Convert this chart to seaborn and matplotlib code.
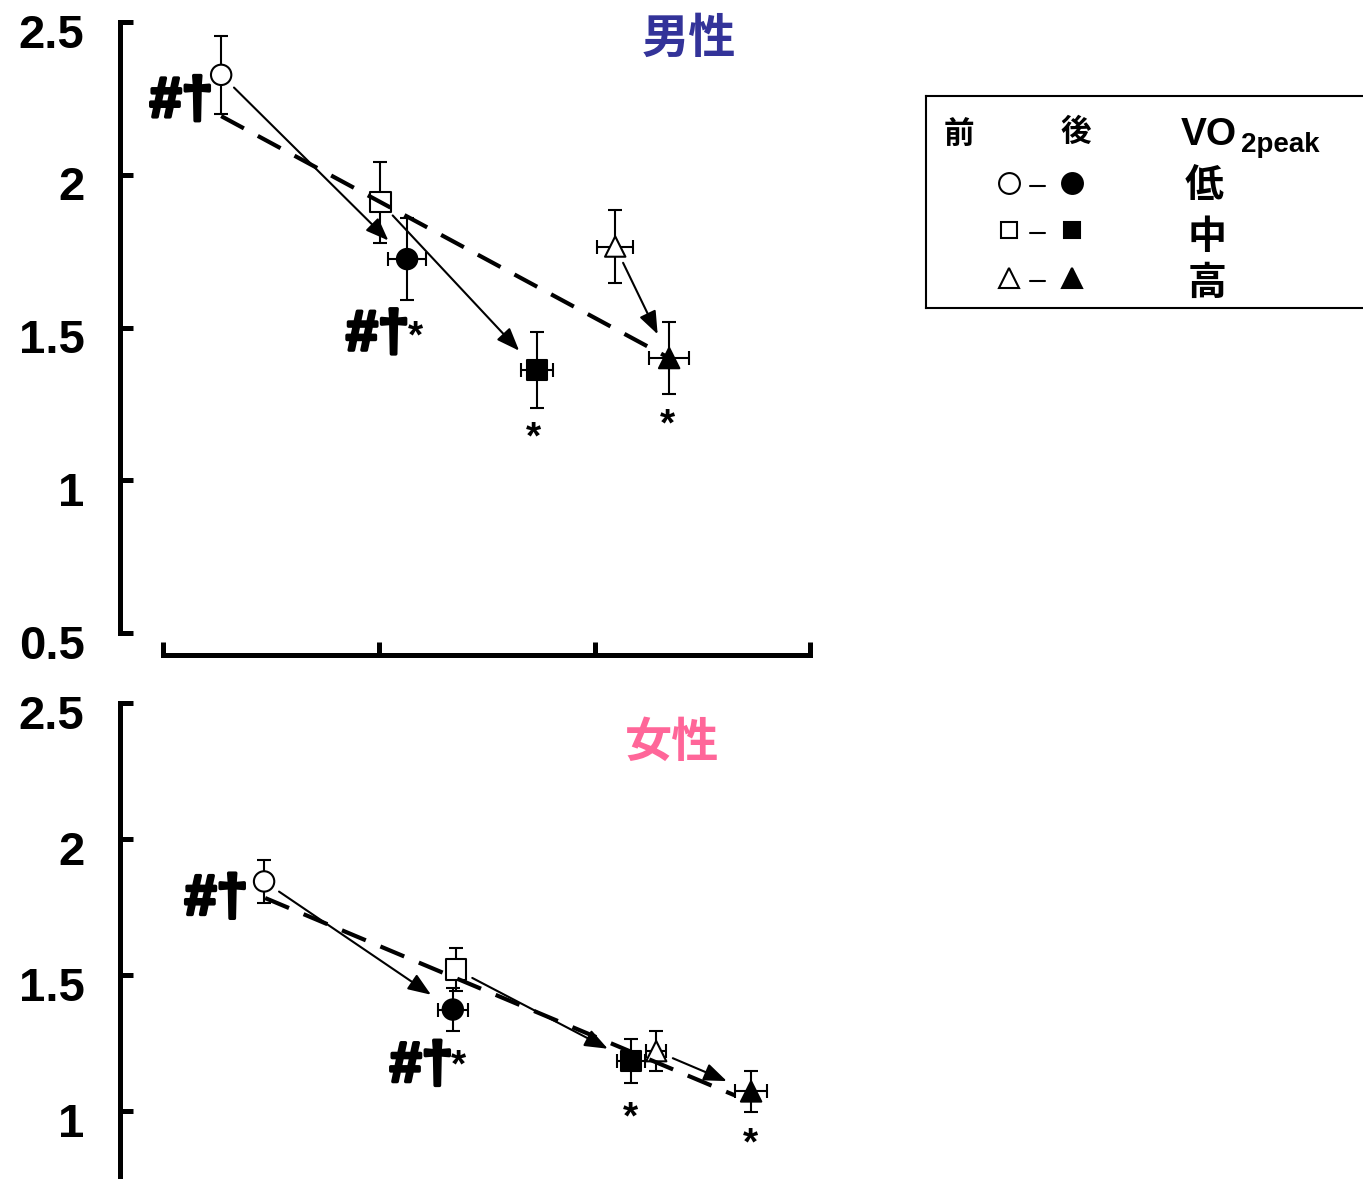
import matplotlib
matplotlib.use("Agg")
import matplotlib.pyplot as plt
import matplotlib.transforms as mtransforms
import matplotlib.patheffects as pe
import numpy as np
import pandas as pd
import seaborn as sns

# VO2peak 群 (低・中・高)
groups = ["低", "中", "高"]
group_markers = {"低": "o", "中": "s", "高": "^"}

# 男性: 前 (pre) / 後 (post)
m_pre_x = [0.269, 1.007, 2.096]
m_pre_y = [2.327, 1.910, 1.765]
m_pre_xerr = [0.03, 0.03, 0.083]
m_pre_yerr = [0.128, 0.133, 0.120]
m_post_x = [1.131, 1.734, 2.346]
m_post_y = [1.724, 1.361, 1.400]
m_post_xerr = [0.088, 0.074, 0.093]
m_post_yerr = [0.135, 0.125, 0.119]
m_dash_x = [0.269, 2.346]
m_dash_y = [2.192, 1.400]

# 女性
f_pre_x = [0.468, 1.359, 2.286]
f_pre_y = [1.844, 1.520, 1.220]
f_pre_xerr = [0.03, 0.03, 0.046]
f_pre_yerr = [0.078, 0.080, 0.074]
f_post_x = [1.343, 2.170, 2.726]
f_post_y = [1.373, 1.184, 1.072]
f_post_xerr = [0.070, 0.065, 0.074]
f_post_yerr = [0.080, 0.080, 0.074]
f_dash_x = [0.473, 2.649]
f_dash_y = [1.783, 1.058]

y_ticks_m = [0.5, 1, 1.5, 2, 2.5]
y_labels_m = ["0.5", "1", "1.5", "2", "2.5"]
y_ticks_f = [1, 1.5, 2, 2.5]
y_labels_f = ["1", "1.5", "2", "2.5"]
x_ticks = [0, 1, 2, 3]

# 有意差の記号: (文字, 前/後, 群, 横ずれ px, 縦ずれ px, 揃え, 大きさ)
m_marks = [
    ("#†", "pre", 0, -8, -42, "right", 41),
    ("#†", "post", 0, -61, -91, "left", 41),
    ("*", "post", 0, 8, -88, "center", 28),
    ("*", "post", 1, -4, -79, "center", 28),
    ("*", "post", 2, -2, -77, "center", 28),
]
f_marks = [
    ("#†", "pre", 0, -16, -33, "right", 41),
    ("#†", "post", 0, -63, -72, "left", 41),
    ("*", "post", 0, 6, -67, "center", 28),
    ("*", "post", 1, -1, -68, "center", 28),
    ("*", "post", 2, -1, -63, "center", 28),
]

sns.set_style("white")
plt.rcParams["font.family"] = ["Liberation Sans", "Noto Sans CJK JP", "DejaVu Sans"]
plt.rcParams["font.weight"] = "bold"
plt.rcParams["text.color"] = "black"

CJK = ["Noto Sans CJK JP", "DejaVu Sans"]

fig = plt.figure(figsize=(13.63, 11.79), dpi=100)
ax_m = fig.add_axes([0.08804, 0.46310, 0.5143, 0.51824])
ax_f = fig.add_axes([0.08804, -0.05768, 0.5143, 0.46141])


def draw_panel(ax, pre, post, dash, marks, title, title_color, title_xy, yt, yl):
    pre_x, pre_y, pre_xerr, pre_yerr = pre
    post_x, post_y, post_xerr, post_yerr = post

    # 誤差棒
    for xs, ys, xe, ye in [pre, post]:
        ax.errorbar(xs, ys, xerr=xe, yerr=ye, fmt="none", ecolor="black",
                    elinewidth=1.5, capsize=4.7, capthick=1.5, zorder=2)

    pre_df = pd.DataFrame({"x": pre_x, "y": pre_y, "群": groups})
    post_df = pd.DataFrame({"x": post_x, "y": post_y, "群": groups})
    sns.scatterplot(data=pre_df, x="x", y="y", style="群", markers=group_markers,
                    s=215, facecolor="white", edgecolor="black", linewidth=1.5,
                    legend=False, ax=ax, zorder=3)
    sns.scatterplot(data=post_df, x="x", y="y", style="群", markers=group_markers,
                    s=215, facecolor="black", edgecolor="black", linewidth=1.5,
                    legend=False, ax=ax, zorder=3)

    # 前 -> 後 の矢印
    for i in range(len(groups)):
        ax.annotate("", xy=(post_x[i], post_y[i]), xytext=(pre_x[i], pre_y[i]),
                    arrowprops=dict(arrowstyle="-|>,head_length=0.7,head_width=0.27",
                                    mutation_scale=20, lw=1.5, color="black",
                                    shrinkA=13, shrinkB=19), zorder=5)

    # 破線
    ax.plot(dash[0], dash[1], color="black", lw=3, linestyle=(0, (6.2, 3.8)),
            solid_capstyle="butt", zorder=4)

    for text, phase, i, dx, dy, ha, size in marks:
        px, py = (pre_x[i], pre_y[i]) if phase == "pre" else (post_x[i], post_y[i])
        t = ax.annotate(text, xy=(px, py), xytext=(dx, dy), textcoords="offset pixels",
                        ha=ha, va="baseline", fontsize=size, fontweight="bold")
        if "#" in text:
            t.set_path_effects([pe.withStroke(linewidth=2.5, foreground="black")])

    ax.text(title_xy[0], title_xy[1], title, transform=ax.transAxes, ha="center",
            va="center", fontsize=34, fontweight="bold", color=title_color, family=CJK)

    ax.set_xlim(-0.2, 3.05)
    ax.set_ylim(0.5, 2.5)
    ax.set_xticks(x_ticks)
    ax.set_yticks(yt, yl)
    ax.set_xlabel("")
    ax.set_ylabel("")
    ax.spines[["top", "right"]].set_visible(False)
    ax.spines["bottom"].set_position(("outward", 16))
    ax.spines["bottom"].set_bounds(0, 3)
    for s in ["left", "bottom"]:
        ax.spines[s].set_linewidth(3.6)
        ax.spines[s].set_color("black")
    ax.tick_params(axis="both", direction="in", length=9.5, width=3.6,
                   color="black", bottom=True, left=True)
    ax.tick_params(axis="x", labelbottom=False)
    ax.tick_params(axis="y", labelsize=34, pad=25.5, labelcolor="black")
    offset = mtransforms.ScaledTranslation(0, -0.085, fig.dpi_scale_trans)
    for lab in ax.get_yticklabels():
        lab.set_fontweight("bold")
        lab.set_transform(lab.get_transform() + offset)
    ax.patch.set_alpha(0)


draw_panel(ax_m, (m_pre_x, m_pre_y, m_pre_xerr, m_pre_yerr),
           (m_post_x, m_post_y, m_post_xerr, m_post_yerr),
           (m_dash_x, m_dash_y), m_marks, "男性", "#333399", (0.8117, 0.972),
           y_ticks_m, y_labels_m)
draw_panel(ax_f, (f_pre_x, f_pre_y, f_pre_xerr, f_pre_yerr),
           (f_post_x, f_post_y, f_post_xerr, f_post_yerr),
           (f_dash_x, f_dash_y), f_marks, "女性", "#ff6699", (0.787, 0.927),
           y_ticks_f, y_labels_f)

# 凡例 (枠は右端で切れている)
lg = fig.add_axes([926 / 1363, 1 - 308 / 1179, 470 / 1363, 212 / 1179])
lg.set_xlim(926, 1396)
lg.set_ylim(308, 96)
lg.set_xticks([])
lg.set_yticks([])
lg.patch.set_alpha(0)
for s in lg.spines.values():
    s.set_linewidth(1.5)
    s.set_color("black")

legend_rows_y = [183, 230, 278]
legend_ms = {"低": 15, "中": 12, "高": 14}
for g, ry in zip(groups, legend_rows_y):
    mk = group_markers[g]
    lg.plot([1009], [ry], marker=mk, ms=legend_ms[g], mfc="white", mec="black", mew=1.5, ls="none")
    lg.plot([1030, 1045], [ry + 3, ry + 3], color="black", lw=1.5)
    lg.plot([1072], [ry], marker=mk, ms=legend_ms[g], mfc="black", mec="black", mew=1.5, ls="none")

lg.text(959, 135, "前", ha="center", va="center", fontsize=22, fontweight="bold", family=CJK)
lg.text(1076, 132, "後", ha="center", va="center", fontsize=22, fontweight="bold", family=CJK)
lg.text(1181, 145, "VO", ha="left", va="baseline", fontsize=28, fontweight="bold")
lg.text(1241, 152, "2peak", ha="left", va="baseline", fontsize=20, fontweight="bold")
for g, (gx, gy) in zip(groups, [(1204, 185), (1207, 238), (1207, 283)]):
    lg.text(gx, gy, g, ha="center", va="center", fontsize=28, fontweight="bold", family=CJK)

fig.savefig("out.png", dpi=100)
